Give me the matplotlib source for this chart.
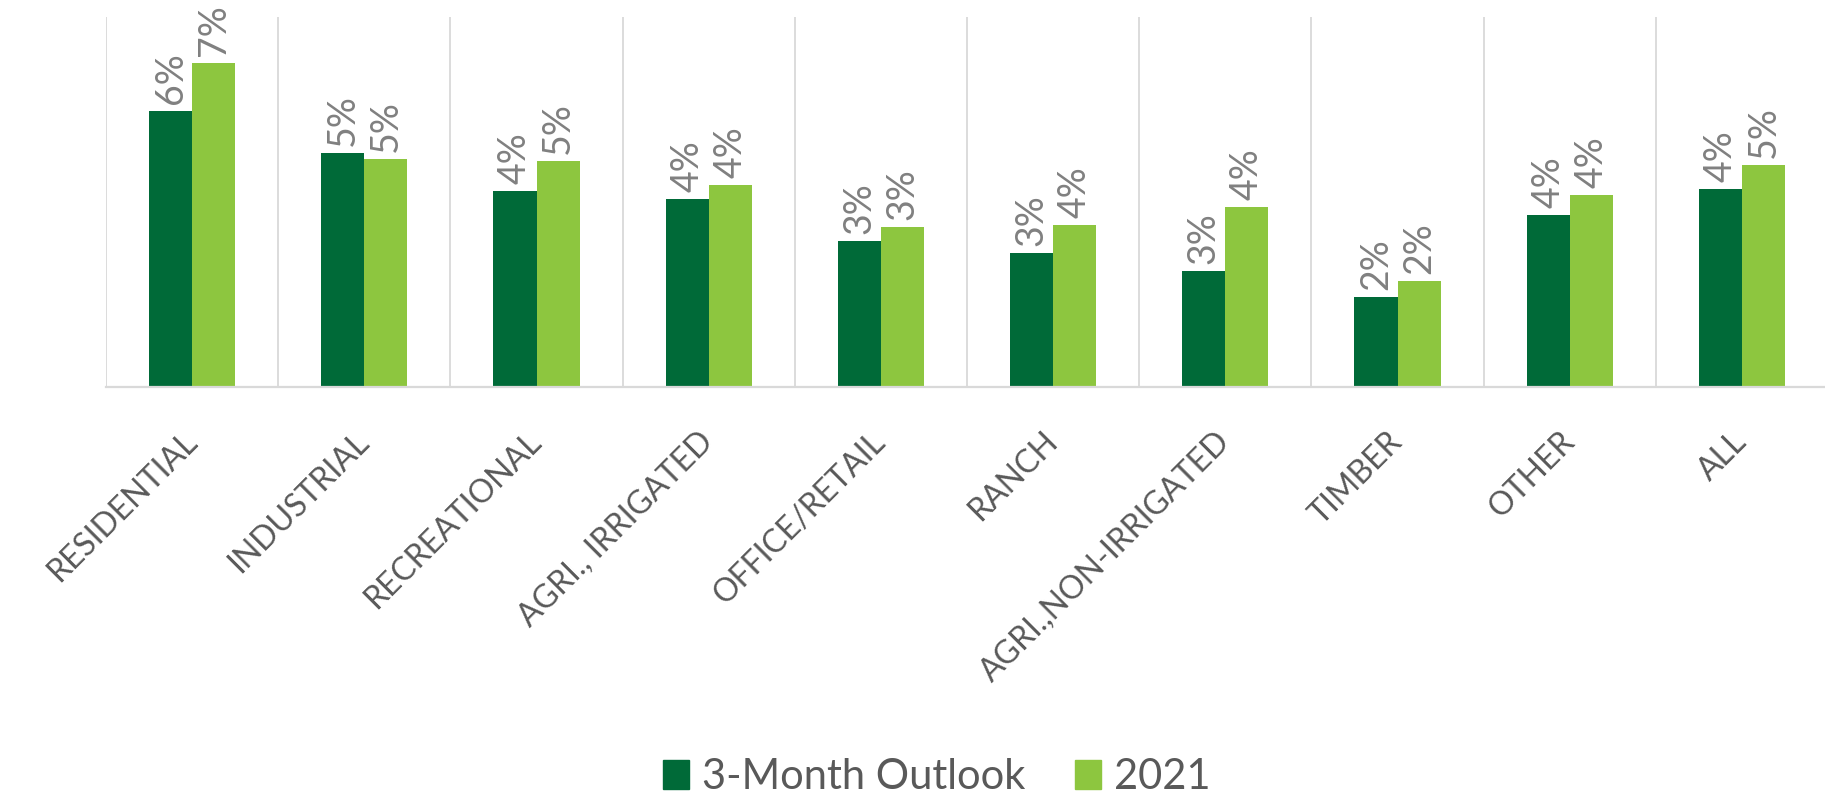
import numpy as np
import matplotlib
matplotlib.use("Agg")
import matplotlib.pyplot as plt
from matplotlib.patches import Patch

# ---------------------------------------------------------------- data
categories = [
    "RESIDENTIAL", "INDUSTRIAL", "RECREATIONAL", "AGRI., IRRIGATED",
    "OFFICE/RETAIL", "RANCH", "AGRI.,NON-IRRIGATED", "TIMBER", "OTHER", "ALL",
]
outlook_3m = [6.00, 5.09, 4.26, 4.09, 3.17, 2.91, 2.52, 1.96, 3.74, 4.30]
year_2021 = [7.04, 4.96, 4.91, 4.39, 3.48, 3.52, 3.91, 2.30, 4.17, 4.83]
series_names = ["3-Month Outlook", "2021"]

# ---------------------------------------------------------------- style
DARK = "#006A38"
LIGHT = "#8DC63F"
GRID = "#D9D9D9"
LABEL_GREY = "#808080"
TICK_GREY = "#595959"
plt.rcParams["font.family"] = ["Lato", "DejaVu Sans"]

W, H = 1825, 801
fig = plt.figure(figsize=(W / 100, H / 100), dpi=100)
ax = fig.add_axes([106 / W, (H - 387) / H, 1722 / W, (387 - 17) / H])

x = np.arange(len(categories))
bw = 0.25
bars1 = ax.bar(x - bw / 2, outlook_3m, bw, color=DARK)
bars2 = ax.bar(x + bw / 2, year_2021, bw, color=LIGHT)

# etiquettes de valeurs, verticales
for bars in (bars1, bars2):
    for b in bars:
        ax.annotate(f"{b.get_height():.0f}%",
                    (b.get_x() + b.get_width() / 2, b.get_height()),
                    xytext=(0, 5), textcoords="offset points",
                    rotation=90, ha="center", va="bottom",
                    fontsize=27, color=LABEL_GREY)

ax.set_xlim(-0.5, len(categories) - 0.5)
ax.set_ylim(0, 370 / 46)
ax.set_yticks([])

# separateurs verticaux entre categories
ax.set_xticks(np.arange(len(categories)) - 0.5, minor=True)
ax.grid(which="minor", axis="x", color=GRID, linewidth=1.3)
ax.tick_params(which="minor", length=0)

ax.set_xticks(x)
ax.set_xticklabels(categories, rotation=45, ha="right", va="center",
                   rotation_mode="anchor", fontsize=23, color=TICK_GREY)
ax.tick_params(axis="x", which="major", length=0, pad=36)

for side in ("top", "right", "left"):
    ax.spines[side].set_visible(False)
ax.spines["bottom"].set_color(GRID)
ax.spines["bottom"].set_linewidth(1.6)

handles = [Patch(color=DARK), Patch(color=LIGHT)]
fig.legend(handles, series_names, loc="center", ncol=2,
           bbox_to_anchor=(937 / W, 0.03), frameon=False, fontsize=30,
           labelcolor=TICK_GREY, handlelength=0.62, handleheight=0.67,
           handletextpad=0.31, columnspacing=1.2, borderpad=0)

fig.savefig("out.png", dpi=100)
